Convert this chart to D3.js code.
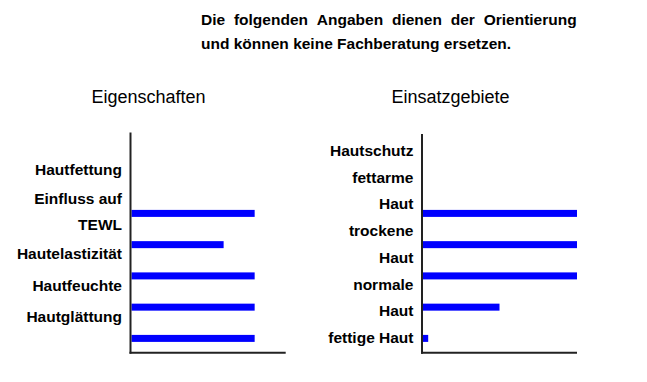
<!DOCTYPE html>
<html><head><meta charset="utf-8">
<script src="https://cdn.jsdelivr.net/npm/d3@7"></script>
<style>body{margin:0;background:#fff}svg{display:block}</style>
</head><body>
<svg id="c" width="647" height="382"></svg>
<script>
// ---- data ----
const noteLines = ["Die folgenden Angaben dienen der Orientierung", "und können keine Fachberatung ersetzen."];
const leftTitle = "Eigenschaften";
const leftCategories = ["Hautfettung", "Einfluss auf TEWL", "Hautelastizität", "Hautfeuchte", "Hautglättung"];
const leftValues = [4, 3, 4, 4, 4];
const rightTitle = "Einsatzgebiete";
const rightCategories = ["Hautschutz", "fettarme Haut", "trockene Haut", "normale Haut", "fettige Haut"];
const rightValues = [5, 5, 5, 2.5, 0.2];
const valueMax = 5;

// ---- drawing ----
const FONT = "Arial, 'Liberation Sans', Helvetica, sans-serif";
const svg = d3.select("#c");
svg.append("rect").attr("width", 647).attr("height", 382).attr("fill", "#fff");

function measure(txt, size, weight) {
  const t = svg.append("text").attr("font-family", FONT).attr("font-size", size)
    .attr("font-weight", weight).text(txt);
  const w = t.node().getComputedTextLength();
  t.remove();
  return w;
}

// note (justified first line)
const noteX0 = 201, noteX1 = 576.7, noteSize = 15.5;
noteLines.forEach((line, i) => {
  const y = 24.5 + i * 24.8;
  const words = line.split(" ");
  if (i === 0) {
    const widths = words.map(w => measure(w, noteSize, "bold"));
    const sp = (noteX1 - noteX0 - d3.sum(widths)) / (words.length - 1);
    let x = noteX0;
    words.forEach((w, k) => {
      svg.append("text").attr("x", x).attr("y", y).attr("font-family", FONT)
        .attr("font-size", noteSize).attr("font-weight", "bold").attr("fill", "#000").text(w);
      x += widths[k] + sp;
    });
  } else {
    svg.append("text").attr("x", noteX0).attr("y", y).attr("font-family", FONT)
      .attr("font-size", noteSize).attr("font-weight", "bold").attr("fill", "#000").text(line);
  }
});

const panels = [
  { title: leftTitle, cats: leftCategories, vals: leftValues, x0: 130.5, x1: 285.7, top: 132.5,
    titleX: 148.5, off: -16.5, pitch: 26.3, gap: 29, wrap: 115 },
  { title: rightTitle, cats: rightCategories, vals: rightValues, x0: 422, x1: 577, top: 134,
    titleX: 450.5, off: 4.6, pitch: 26.5, gap: 27, wrap: 90 }
];
const bottom = 352.7, barH = 7, labelSize = 15.5;

panels.forEach(p => {
  const g = svg.append("g");
  g.append("text").attr("x", p.titleX).attr("y", 102.7).attr("text-anchor", "middle")
    .attr("font-family", FONT).attr("font-size", 18).attr("fill", "#000").text(p.title);

  const x = d3.scaleLinear().domain([0, valueMax]).range([p.x0, p.x1]);
  const y = d3.scalePoint().domain(p.cats).range([213.4, 338.4]);

  g.selectAll("rect.bar").data(p.cats).enter().append("rect").attr("class", "bar")
    .attr("x", p.x0 + 1).attr("y", d => y(d) - barH / 2)
    .attr("width", (d, i) => Math.max(0, x(p.vals[i]) - p.x0 - 1)).attr("height", barH)
    .attr("fill", "#0000ff");

  // axis lines
  g.append("line").attr("x1", p.x0).attr("x2", p.x0).attr("y1", p.top).attr("y2", bottom + 1)
    .attr("stroke", "#222").attr("stroke-width", 2);
  g.append("line").attr("x1", p.x0 - 1).attr("x2", p.x1).attr("y1", bottom).attr("y2", bottom)
    .attr("stroke", "#222").attr("stroke-width", 2);

  // labels, wrapped and stacked from the bottom upwards
  let prevTop = Infinity;
  for (let i = p.cats.length - 1; i >= 0; i--) {
    const words = p.cats[i].split(" ");
    const lines = [];
    let cur = "";
    words.forEach(w => {
      const test = cur ? cur + " " + w : w;
      if (cur && measure(test, labelSize, "bold") > p.wrap) { lines.push(cur); cur = w; }
      else cur = test;
    });
    lines.push(cur);
    const n = lines.length;
    let base = y(p.cats[i]) + p.off + (n - 1) * p.pitch / 2;
    base = Math.min(base, prevTop - p.gap);
    lines.forEach((ln, k) => {
      g.append("text").attr("x", p.x0 - 8.5).attr("y", base - (n - 1 - k) * p.pitch)
        .attr("text-anchor", "end").attr("font-family", FONT).attr("font-size", labelSize)
        .attr("font-weight", "bold").attr("fill", "#000").text(ln);
    });
    prevTop = base - (n - 1) * p.pitch;
  }
});
</script>
</body></html>
